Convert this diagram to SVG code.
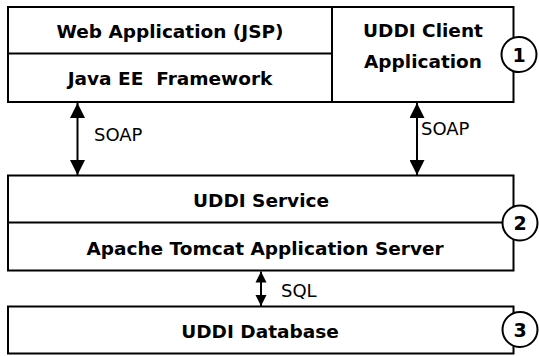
<svg xmlns="http://www.w3.org/2000/svg" width="539" height="356" viewBox="0 0 539 356">
<defs>
<marker id="ah" viewBox="0 0 10 10" refX="10" refY="5" markerWidth="7.5" markerHeight="7.5" markerUnits="strokeWidth" orient="auto-start-reverse">
<path d="M0,0 L10,5 L0,10 z" fill="#000"/>
</marker>
<marker id="ahs" viewBox="0 0 10 10" refX="10" refY="5" markerWidth="5.5" markerHeight="7.5" markerUnits="strokeWidth" orient="auto-start-reverse">
<path d="M0,0 L10,5 L0,10 z" fill="#000"/>
</marker>
</defs>
<style>
.box{fill:#fff;stroke:#000;stroke-width:2}
.ln{fill:none;stroke:#000;stroke-width:2}
.t{font-family:"DejaVu Sans",Verdana,sans-serif;font-weight:bold;font-size:18.5px;text-anchor:middle;fill:#000}
.lbl{font-family:"DejaVu Sans",Verdana,sans-serif;font-size:18px;fill:#000}
.num{font-family:"DejaVu Sans",Verdana,sans-serif;font-weight:bold;font-size:19px;text-anchor:middle;fill:#000}
.circ{fill:#fff;stroke:#000;stroke-width:2}
</style>
<rect width="539" height="356" fill="#fff"/>
<g id="connectors">
<line class="ln" x1="77.5" y1="103" x2="77.5" y2="175" marker-start="url(#ah)" marker-end="url(#ah)"/>
<text class="lbl" x="94" y="141">SOAP</text>
<line class="ln" x1="417" y1="103" x2="417" y2="175" marker-start="url(#ah)" marker-end="url(#ah)"/>
<text class="lbl" x="421" y="135">SOAP</text>
<line class="ln" x1="261" y1="271.5" x2="261" y2="306" marker-start="url(#ahs)" marker-end="url(#ahs)"/>
<text class="lbl" x="281" y="297">SQL</text>
</g>
<g id="node-client-tier">
<rect class="box" x="8" y="7" width="505.5" height="95"/>
<line class="ln" x1="8" y1="53.5" x2="332" y2="53.5"/>
<line class="ln" x1="332" y1="7" x2="332" y2="102"/>
<text class="t" x="170" y="38">Web Application (JSP)</text>
<text class="t" x="170" y="85" xml:space="preserve">Java EE  Framework</text>
<text class="t" x="423" y="37">UDDI Client</text>
<text class="t" x="423" y="68">Application</text>
<circle class="circ" cx="519" cy="54.5" r="17.5"/>
<text class="num" x="519" y="61.5">1</text>
</g>
<g id="node-service-tier">
<rect class="box" x="8" y="175.5" width="505.5" height="95"/>
<line class="ln" x1="8" y1="222.5" x2="513.5" y2="222.5"/>
<text class="t" x="261" y="207">UDDI Service</text>
<text class="t" x="265" y="255">Apache Tomcat Application Server</text>
<circle class="circ" cx="520" cy="223" r="17.5"/>
<text class="num" x="520" y="230">2</text>
</g>
<g id="node-database-tier">
<rect class="box" x="8" y="306.5" width="505.5" height="47"/>
<text class="t" x="260" y="338">UDDI Database</text>
<circle class="circ" cx="520" cy="329.5" r="17.5"/>
<text class="num" x="520" y="336.5">3</text>
</g>
</svg>
